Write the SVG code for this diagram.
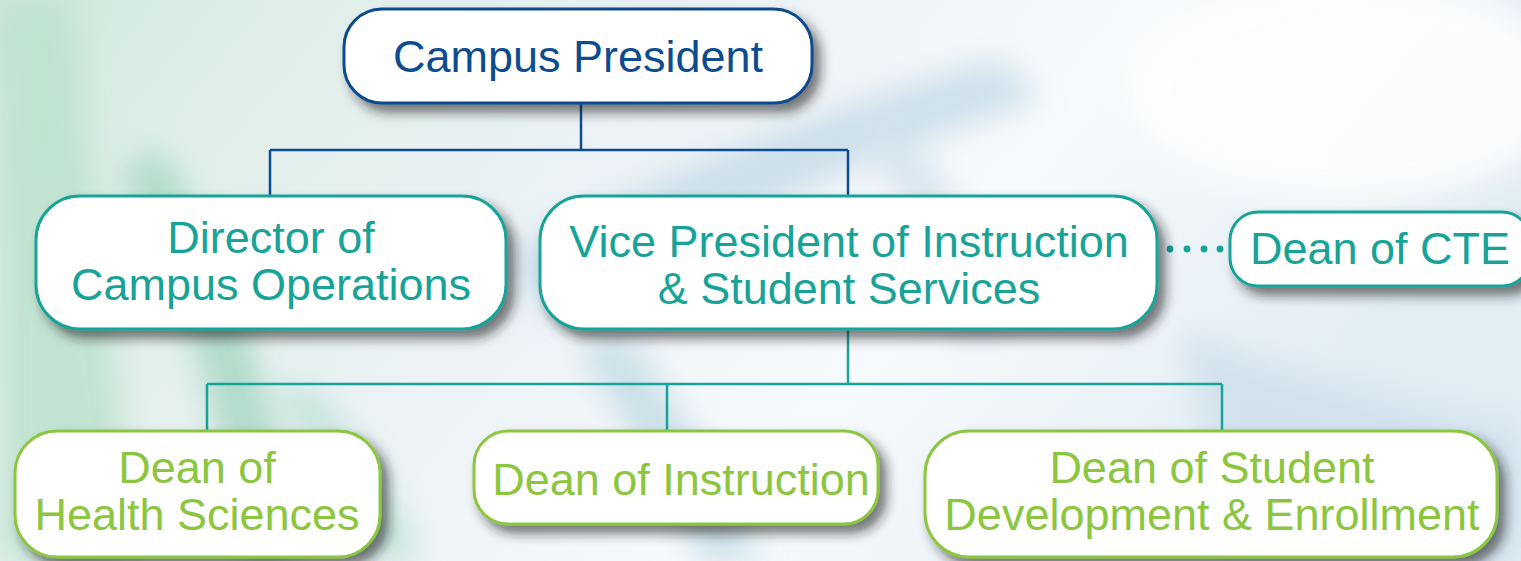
<svg xmlns="http://www.w3.org/2000/svg" width="1521" height="561" viewBox="0 0 1521 561">
<defs>
<linearGradient id="bg" x1="0" y1="0" x2="1" y2="0.3">
<stop offset="0" stop-color="#cde7da"/>
<stop offset="0.18" stop-color="#e0efe9"/>
<stop offset="0.45" stop-color="#ecf2f6"/>
<stop offset="0.7" stop-color="#f7fafc"/>
<stop offset="1" stop-color="#e2edf4"/>
</linearGradient>
<filter id="blur" x="-20%" y="-20%" width="140%" height="140%"><feGaussianBlur stdDeviation="16"/></filter>
<filter id="sh" x="-10%" y="-10%" width="130%" height="145%"><feDropShadow dx="7" dy="8" stdDeviation="6" flood-color="#222" flood-opacity="0.6"/></filter>
<style>
.box{fill:#fff;stroke-width:3}
.b{stroke:#0d4c8f}
.t{stroke:#17a398}
.g{stroke:#8cc63f}
text{font-family:"Liberation Sans",Arial,sans-serif;font-size:45px;text-anchor:middle}
.tb{fill:#0d4c8f}
.tt{fill:#17a398}
.tg{fill:#8cc63f}
.cb{stroke:#0d4c8f;stroke-width:2.5;fill:none}
.ct{stroke:#17a398;stroke-width:2.5;fill:none}
</style>
</defs>
<rect width="1521" height="561" fill="url(#bg)"/>
<g filter="url(#blur)" opacity="0.85">
<path d="M0 0 L70 0 L140 561 L0 561 Z" fill="#bde2cd"/>
<path d="M160 150 Q260 300 300 561 L240 561 Q210 330 120 170 Z" fill="#a6d7c2"/>
<path d="M300 380 Q380 460 420 561 L370 561 Q340 470 280 400 Z" fill="#b8dfd2"/>
<path d="M500 260 Q760 120 1000 60 L1040 100 Q780 180 560 320 Z" fill="#c6dbe8"/>
<path d="M620 330 Q700 430 760 561 L700 561 Q640 440 580 350 Z" fill="#c2dbe5"/>
<path d="M1180 330 Q1350 400 1521 430 L1521 561 L1240 561 Z" fill="#cddfeb"/>
<path d="M880 120 Q980 200 1010 330 L960 340 Q930 220 860 140 Z" fill="#d0e1ed"/>
<ellipse cx="1350" cy="90" rx="220" ry="110" fill="#ffffff"/>
</g>
<g id="connectors">
<path class="cb" d="M581 103 V150 M270 150 H848 M270 150 V197 M848 150 V197"/>
<path class="ct" d="M848 330 V384 M207 384 H1222 M207 384 V432 M667 384 V432 M1222 384 V432"/>
<g fill="#17a398"><circle cx="1170" cy="249" r="3.4"/><circle cx="1187" cy="249" r="3.4"/><circle cx="1204" cy="249" r="3.4"/><circle cx="1220" cy="249" r="3.4"/></g>
</g>
<g id="campus-president"><rect class="box b" filter="url(#sh)" x="344" y="9" width="468" height="94" rx="38"/><text class="tb" x="578" y="72">Campus President</text></g>
<g id="director"><rect class="box t" filter="url(#sh)" x="36" y="196" width="470" height="133" rx="44"/><text class="tt" x="271" y="253">Director of</text><text class="tt" x="271" y="300">Campus Operations</text></g>
<g id="vp"><rect class="box t" filter="url(#sh)" x="540" y="196" width="617" height="133" rx="44"/><text class="tt" x="849" y="257">Vice President of Instruction</text><text class="tt" x="849" y="304">&amp; Student Services</text></g>
<g id="dean-cte"><rect class="box t" filter="url(#sh)" x="1230" y="212" width="300" height="74" rx="28"/><text class="tt" x="1380" y="264">Dean of CTE</text></g>
<g id="dean-health"><rect class="box g" filter="url(#sh)" x="15" y="431" width="365" height="126" rx="42"/><text class="tg" x="197" y="483">Dean of</text><text class="tg" x="197" y="530">Health Sciences</text></g>
<g id="dean-instruction"><rect class="box g" filter="url(#sh)" x="474" y="431" width="404" height="93" rx="34"/><text class="tg" x="681" y="495">Dean of Instruction</text></g>
<g id="dean-student"><rect class="box g" filter="url(#sh)" x="925" y="431" width="572" height="126" rx="44"/><text class="tg" x="1212" y="483">Dean of Student</text><text class="tg" x="1212" y="530">Development &amp; Enrollment</text></g>
</svg>
